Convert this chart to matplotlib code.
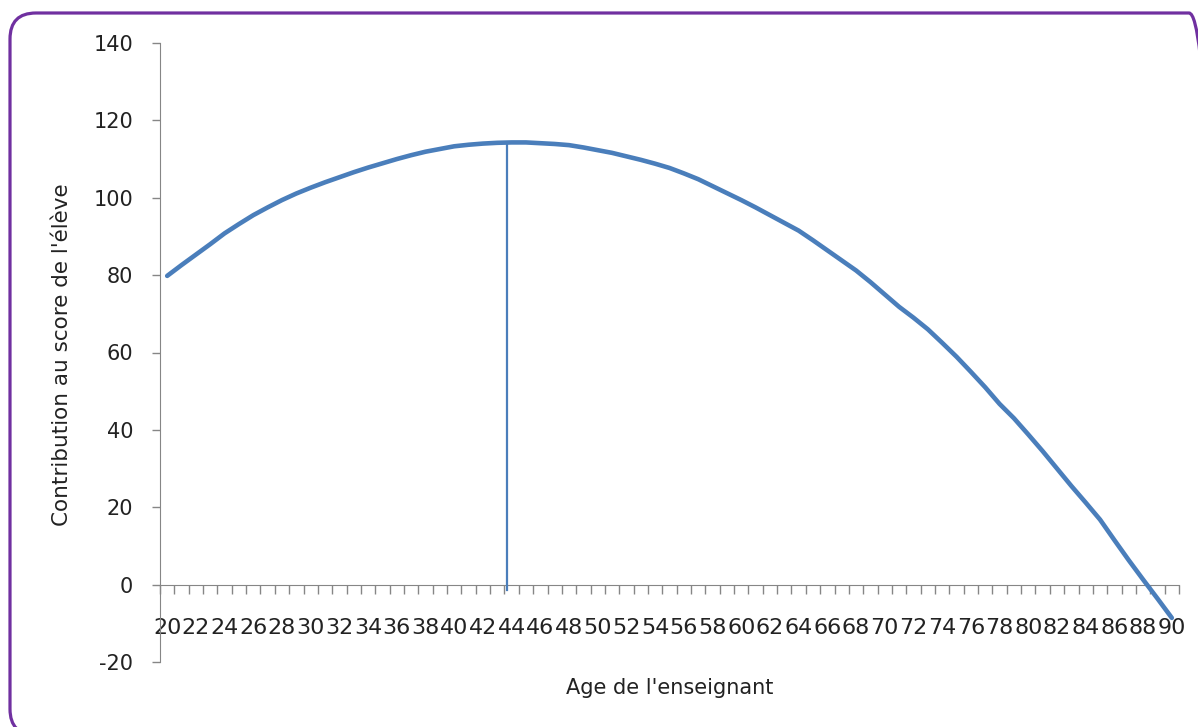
import numpy as np
import matplotlib
matplotlib.use("Agg")
import matplotlib.pyplot as plt
from matplotlib.patches import FancyBboxPatch
from matplotlib.transforms import IdentityTransform

plt.rcParams['axes.unicode_minus'] = False

# ages 20..90 and values
ages = list(range(20, 91))
contribution = [
    79.8, 82.6, 85.3, 88.0, 90.8, 93.2, 95.5, 97.5, 99.4, 101.1,   # 20-29
    102.6, 104.0, 105.3, 106.6, 107.8, 108.9, 110.0, 111.0, 111.9, 112.6,  # 30-39
    113.3, 113.7, 114.0, 114.2, 114.3, 114.3, 114.1, 113.9, 113.6, 113.0,  # 40-49
    112.3, 111.6, 110.7, 109.8, 108.8, 107.7, 106.3, 104.8, 103.0, 101.2,  # 50-59
    99.4, 97.5, 95.5, 93.5, 91.5, 89.0, 86.4, 83.8, 81.2, 78.2,  # 60-69
    75.0, 71.8, 69.0, 66.0, 62.5, 58.9, 55.0, 51.0, 46.7, 43.0,  # 70-79
    38.8, 34.5, 30.0, 25.5, 21.2, 16.8, 11.5, 6.3, 1.3, -3.6,  # 80-89
    -8.6,  # 90
]
# vertical marker at the optimal age
peak_age = 43.7
peak_value = 114.2
drop_bottom = -1.5
xlabel = "Age de l'enseignant"
ylabel = "Contribution au score de l'élève"

blue = '#4A7EBB'
grey = '#868686'

W, H = 1198, 727
fig = plt.figure(figsize=(W / 100, H / 100), dpi=100, facecolor='white')

# purple rounded frame (in pixels)
frame = FancyBboxPatch((10, -8), 1205, 722, boxstyle="round,pad=0,rounding_size=26",
                       transform=IdentityTransform(), facecolor='none',
                       edgecolor='#7030A0', linewidth=2.3, zorder=5)
fig.patches.append(frame)

left, right = 160, 1179
top, bottom = 43, 662
ax = fig.add_axes([left / W, 1 - bottom / H, (right - left) / W, (bottom - top) / H])
ax.patch.set_alpha(0)

x = np.arange(len(ages))
ax.plot(x, contribution, color=blue, linewidth=3.3, solid_capstyle='round', zorder=3)
xp = peak_age - ages[0]
ax.plot([xp, xp], [peak_value, drop_bottom], color=blue, linewidth=1.6, zorder=3)

ax.set_xlim(-0.5, len(ages) - 0.5)
ax.set_ylim(-20, 140)

# spines
ax.spines['top'].set_visible(False)
ax.spines['right'].set_visible(False)
ax.spines['left'].set_color(grey)
ax.spines['bottom'].set_color(grey)
ax.spines['bottom'].set_position(('data', 0))

# y axis
ax.set_yticks(np.arange(-20, 141, 20))
ax.tick_params(axis='y', direction='out', length=5.8, width=1, color=grey,
               labelsize=15, pad=13.5, labelcolor='#222222')

# x axis: categories, ticks between them, labels every 2
ax.set_xticks(x[::2])
ax.set_xticklabels([str(a) for a in ages[::2]])
ax.set_xticks(np.arange(-0.5, len(ages), 1), minor=True)
ax.tick_params(axis='x', which='major', length=0, labelsize=16, pad=24, labelcolor='#222222')
ax.tick_params(axis='x', which='minor', direction='out', length=6.5, width=1, color=grey)

fig.text((left + right) / 2 / W, 1 - 688 / H, xlabel, ha='center', va='center', fontsize=15, color='#222222')
fig.text(62 / W, 1 - 355 / H, ylabel, ha='center', va='center', rotation=90, fontsize=15.5, color='#222222')

plt.savefig('out.png', dpi=100, facecolor='white')
